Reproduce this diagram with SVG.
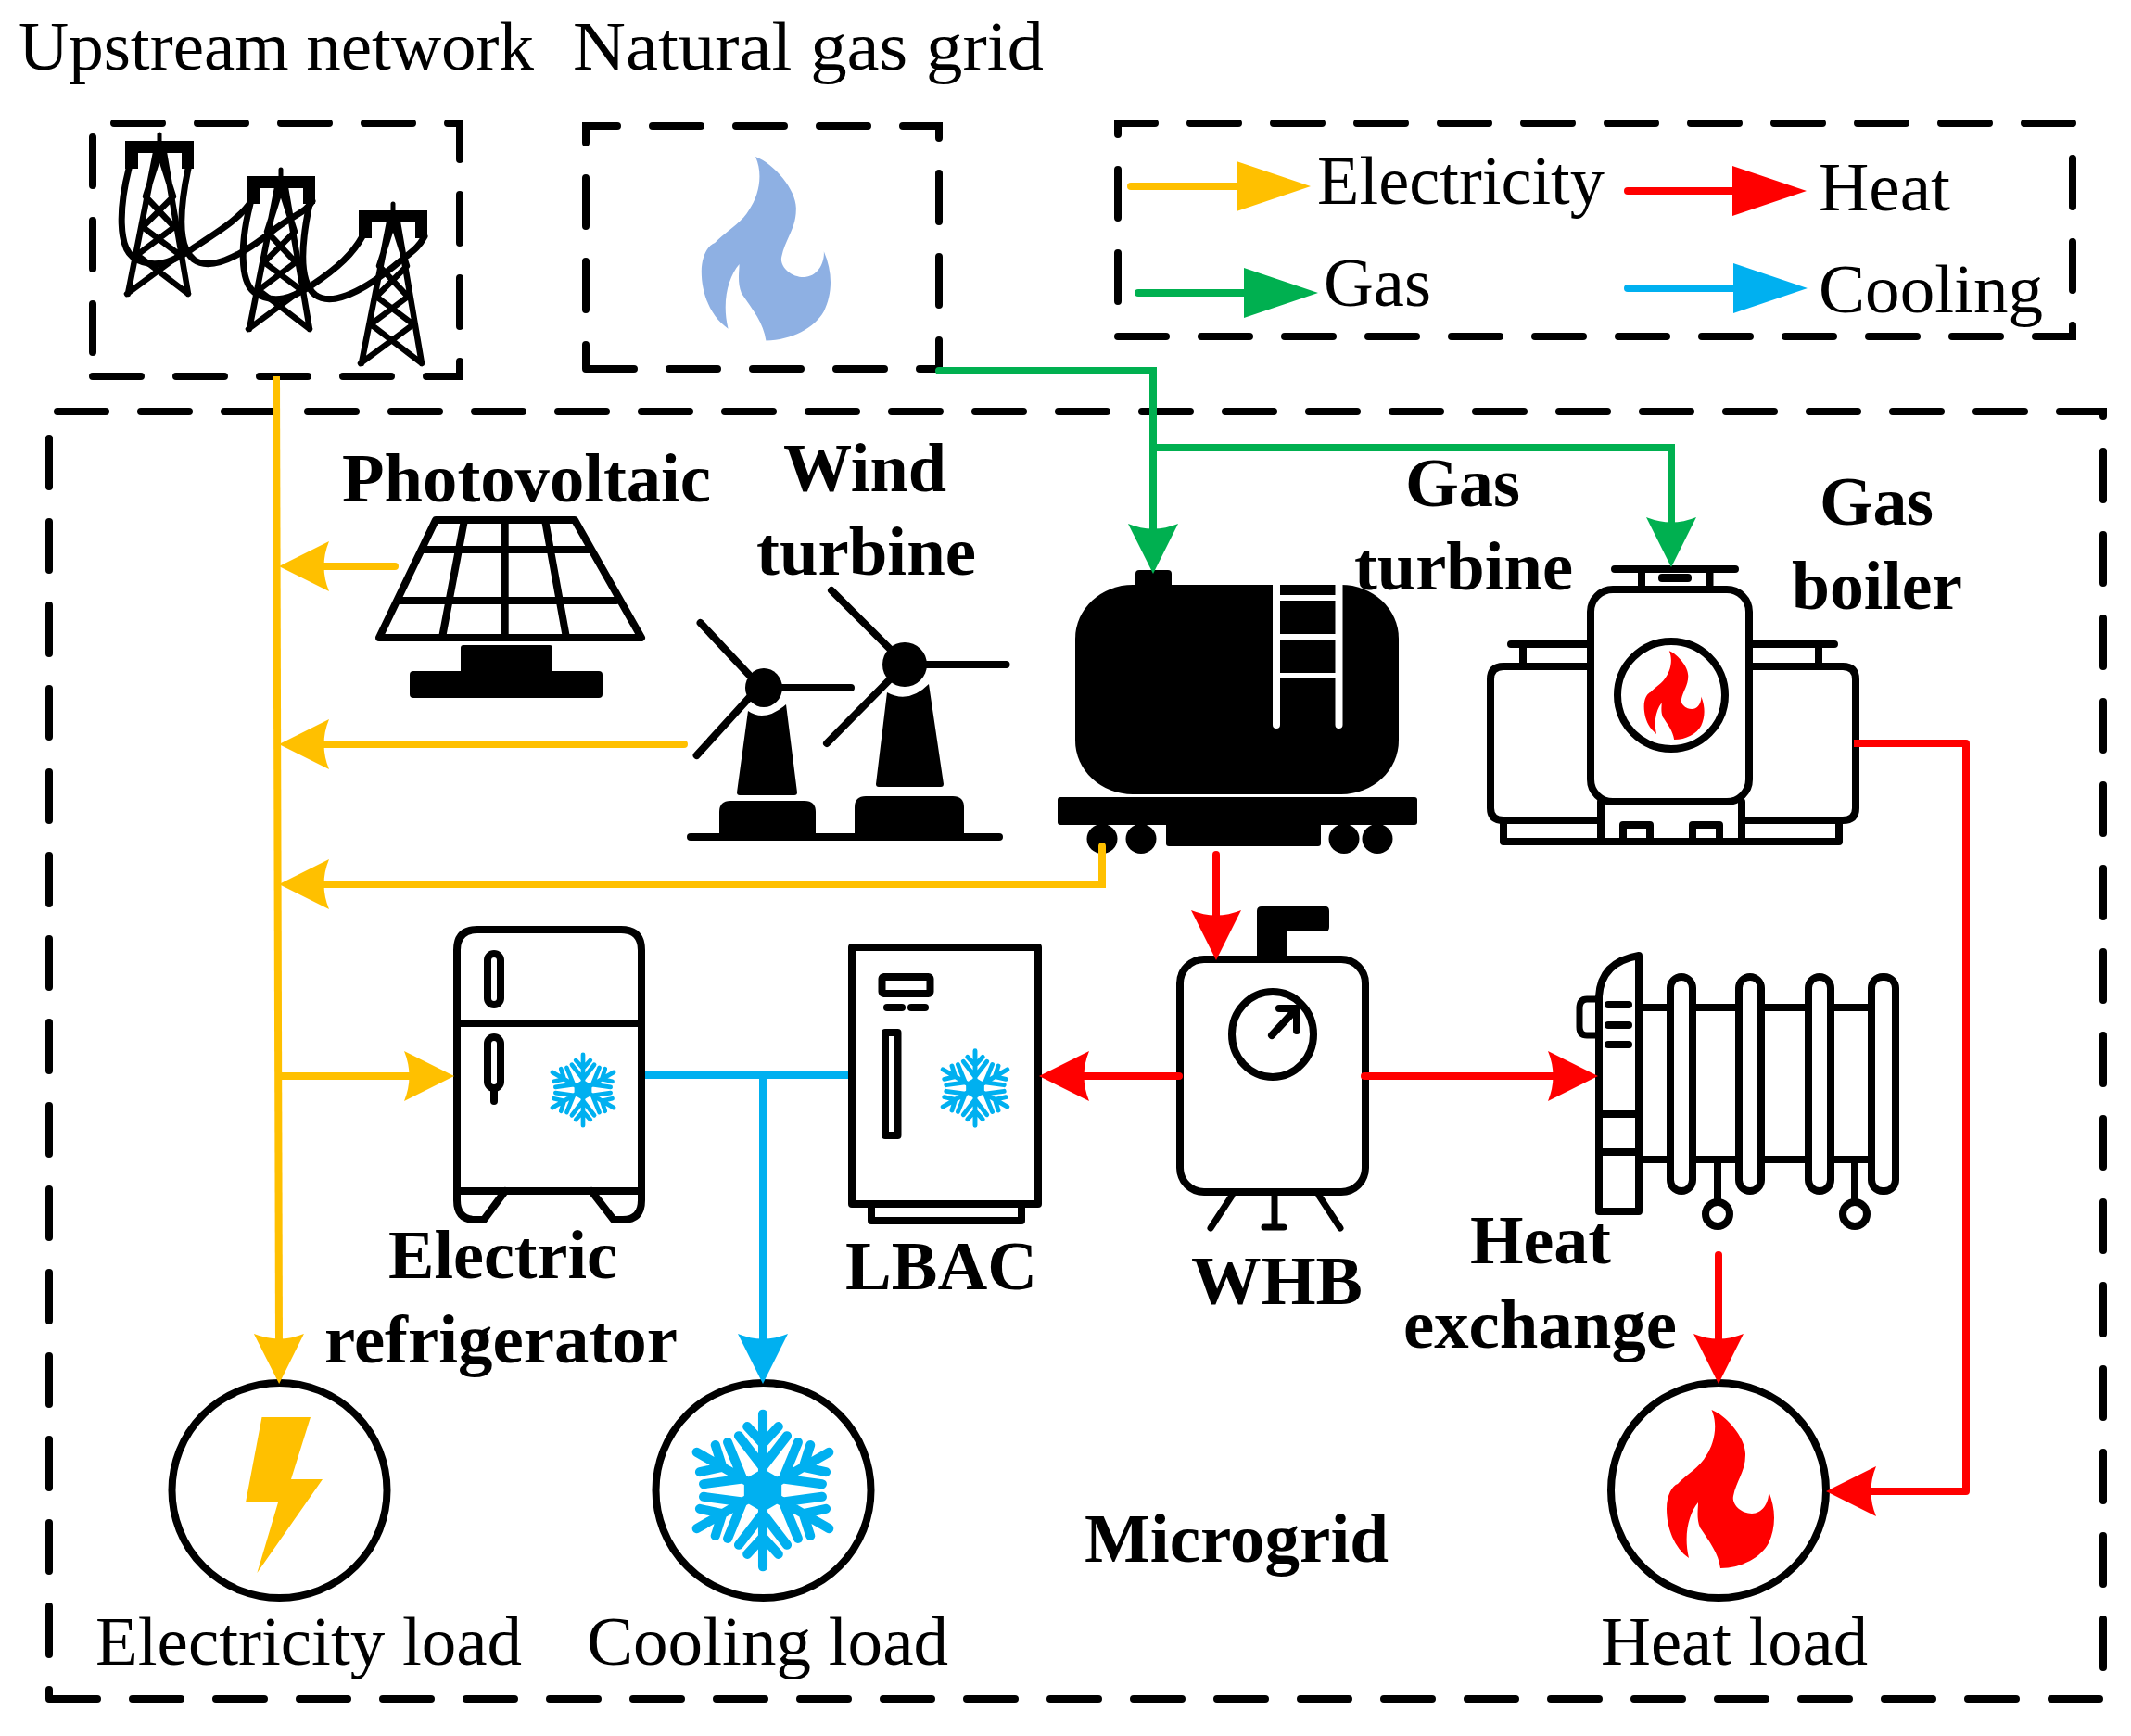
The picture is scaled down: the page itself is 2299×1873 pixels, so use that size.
<svg xmlns="http://www.w3.org/2000/svg" width="2299" height="1873" viewBox="0 0 2299 1873">
<style>
.bg{fill:#fff}
.dash{fill:none;stroke:#000;stroke-width:8;stroke-linecap:round;stroke-linejoin:miter;stroke-dasharray:52 38}
.t{font-family:"Liberation Serif","Times New Roman",serif;font-size:75px;fill:#000}
.b{font-weight:bold}
.s{fill:none;stroke:#000;stroke-width:8;stroke-linejoin:round;stroke-linecap:round}
.sw{fill:#fff;stroke:#000;stroke-width:8;stroke-linejoin:round;stroke-linecap:round}
.k{fill:#000;stroke:none}
.wl{fill:none;stroke:#fff;stroke-width:8;stroke-linecap:round}
.c{fill:none;stroke-width:8;stroke-linejoin:miter}
.y{stroke:#FFC000}.g{stroke:#00B050}.r{stroke:#FF0000}.u{stroke:#00B0F0}
.lg{stroke-linecap:round}
.flk{fill:none;stroke:#00B0F0;stroke-width:12;stroke-linecap:round;stroke-linejoin:round}
</style>
<defs>
<marker id="ay" markerUnits="userSpaceOnUse" viewBox="0 0 54 54" markerWidth="54" markerHeight="54" refX="10" refY="27" orient="auto"><path d="M0 0Q11 27 0 54L54 27Z" fill="#FFC000"/></marker>
<marker id="ag" markerUnits="userSpaceOnUse" viewBox="0 0 54 54" markerWidth="54" markerHeight="54" refX="10" refY="27" orient="auto"><path d="M0 0Q11 27 0 54L54 27Z" fill="#00B050"/></marker>
<marker id="ar" markerUnits="userSpaceOnUse" viewBox="0 0 54 54" markerWidth="54" markerHeight="54" refX="10" refY="27" orient="auto"><path d="M0 0Q11 27 0 54L54 27Z" fill="#FF0000"/></marker>
<marker id="au" markerUnits="userSpaceOnUse" viewBox="0 0 54 54" markerWidth="54" markerHeight="54" refX="10" refY="27" orient="auto"><path d="M0 0Q11 27 0 54L54 27Z" fill="#00B0F0"/></marker>
<marker id="ty" markerUnits="userSpaceOnUse" viewBox="0 0 80 54" markerWidth="80" markerHeight="54" refX="1" refY="27" orient="auto"><path d="M0 0V54L80 27Z" fill="#FFC000"/></marker>
<marker id="tg" markerUnits="userSpaceOnUse" viewBox="0 0 80 54" markerWidth="80" markerHeight="54" refX="1" refY="27" orient="auto"><path d="M0 0V54L80 27Z" fill="#00B050"/></marker>
<marker id="tr" markerUnits="userSpaceOnUse" viewBox="0 0 80 54" markerWidth="80" markerHeight="54" refX="1" refY="27" orient="auto"><path d="M0 0V54L80 27Z" fill="#FF0000"/></marker>
<marker id="tu" markerUnits="userSpaceOnUse" viewBox="0 0 80 54" markerWidth="80" markerHeight="54" refX="1" refY="27" orient="auto"><path d="M0 0V54L80 27Z" fill="#00B0F0"/></marker>
<path id="flame" d="M-7.5 -87C10 -80 30 -55 29 -38C29 -20 19 -10 16 6C14 15 24 25 36 25C48 25 55 12 54 1C62 20 62 40 54 57C46 72 25 84 2 84C0 68 -10 55 -20 40C-24 30 -22 20 -22 13C-32 25 -38 48 -32 73C-48 62 -56 40 -56 20C-56 5 -50 -5 -44 -7C-35 -17 -20 -25 -13 -38C-5 -50 0 -70 -7.5 -87Z"/>
<path id="arm" d="M0 0V-98M-20 -82L0 -60L20 -82M-31 -70L0 -30L31 -70"/>
<g id="flake" class="flk">
<use href="#arm"/><use href="#arm" transform="rotate(60)"/><use href="#arm" transform="rotate(120)"/><use href="#arm" transform="rotate(180)"/><use href="#arm" transform="rotate(240)"/><use href="#arm" transform="rotate(300)"/>
<path d="M0 -28L24 -14V14L0 28L-24 14V-14Z" fill="#00B0F0" stroke="none"/>
</g>
<g id="tower">
<path class="k" d="M135 152H209V182H196V165H149V182H135Z"/>
<path d="M172 145V156" stroke="#000" stroke-width="5" fill="none" stroke-linecap="round"/>
<path d="M168 165L138 317M177 165L203 317M172 165L157 212L188 245L148 275L203 317M172 165L187 212L154 245L194 275L137 317" fill="none" stroke="#000" stroke-width="6.5" stroke-linejoin="round" stroke-linecap="round"/>
</g>
</defs>
<rect class="bg" width="2299" height="1873"/>

<g id="frames">
<path class="dash" d="M100 406H496V133H100V406"/>
<path class="dash" d="M632 398H1013V136H632V398"/>
<path class="dash" d="M1206 363H2236V133H1206V363"/>
<path class="dash" d="M53 1833H2269V444H53V1833"/>
</g>

<g id="upstream-network">
<use href="#tower"/>
<use href="#tower" transform="translate(131 38)"/>
<use href="#tower" transform="translate(252 75)"/>
<g fill="none" stroke="#000" stroke-width="7" stroke-linecap="round">
<path d="M139 182C128 225 128 265 143 277C165 292 185 283 205 270C235 250 260 235 271 217"/>
<path d="M203 182C195 220 190 265 209 280C225 292 255 280 293 250C315 232 330 230 337 217"/>
<path d="M270 220C259 263 259 303 274 315C296 330 316 321 336 308C366 288 381 273 391 255"/>
<path d="M334 220C326 258 321 303 340 318C356 330 386 318 424 288C446 270 451 268 458 255"/>
</g>
<text class="t" x="20" y="75" textLength="556" lengthAdjust="spacingAndGlyphs">Upstream network</text>
</g>

<g id="natural-gas-grid">
<use href="#flame" fill="#8EB0E3" transform="translate(824 270) scale(1.2 1.16)"/>
<text class="t" x="618" y="75" textLength="508" lengthAdjust="spacingAndGlyphs">Natural gas grid</text>
</g>

<g id="legend">
<path class="c y lg" d="M1220 201H1335" marker-end="url(#ty)"/>
<path class="c g lg" d="M1228 316H1343" marker-end="url(#tg)"/>
<path class="c r lg" d="M1756 206H1870" marker-end="url(#tr)"/>
<path class="c u lg" d="M1756 311H1871" marker-end="url(#tu)"/>
<text class="t" x="1421" y="220" textLength="310" lengthAdjust="spacingAndGlyphs">Electricity</text>
<text class="t" x="1962" y="227" textLength="142" lengthAdjust="spacingAndGlyphs">Heat</text>
<text class="t" x="1428" y="330" textLength="116" lengthAdjust="spacingAndGlyphs">Gas</text>
<text class="t" x="1962" y="337" textLength="242" lengthAdjust="spacingAndGlyphs">Cooling</text>
</g>

<g id="photovoltaic">
<path class="s" d="M470 561H620L692 688H409ZM458 593H635M432 648H665M544.700 561V688M501 561L477 688M588 561L611 688"/>
<rect class="k" x="497" y="696" width="99" height="34" rx="3"/>
<rect class="k" x="442" y="724" width="208" height="29" rx="4"/>
<text class="t b" x="369" y="541" textLength="398" lengthAdjust="spacingAndGlyphs">Photovoltaic</text>
</g>

<g id="wind-turbine">
<path class="s" d="M755.600 672L808 728M843 742H918M751.600 815L808 753M897 637L962 702M999 717H1085.500M892 802L960 733"/>
<ellipse class="k" cx="824" cy="742" rx="20" ry="21"/>
<ellipse class="k" cx="976" cy="717" rx="24" ry="24"/>
<path class="k" d="M807 767Q825 780 848 760L860 855Q860 858 857 858H798Q795 858 795 855Z"/>
<path class="k" d="M957 747Q980 760 1002 738L1018 846Q1018 849 1015 849H948Q945 849 945 846Z"/>
<path class="k" d="M776 903V876Q776 864 788 864H868Q880 864 880 876V903Z"/>
<path class="k" d="M922 903V871Q922 859 934 859H1028Q1040 859 1040 871V903Z"/>
<path class="s" d="M745 903H1078"/>
<text class="t b" x="845" y="530" textLength="176" lengthAdjust="spacingAndGlyphs">Wind</text>
<text class="t b" x="816" y="620" textLength="237" lengthAdjust="spacingAndGlyphs">turbine</text>
</g>

<g id="gas-turbine">
<rect class="k" x="1225" y="615" width="39" height="24" rx="4"/>
<rect class="k" x="1160" y="631" width="349" height="226" rx="62" ry="58"/>
<path class="wl" d="M1377 631V782M1444.500 631V782"/>
<path d="M1377 645H1444M1377 687H1444M1377 729H1444" stroke="#fff" stroke-width="6" fill="none"/>
<rect class="k" x="1141" y="860" width="388" height="30" rx="3"/>
<rect class="k" x="1258" y="885" width="167" height="28" rx="3"/>
<ellipse class="k" cx="1189" cy="905" rx="16.500" ry="16"/>
<ellipse class="k" cx="1231" cy="905" rx="16.500" ry="16"/>
<ellipse class="k" cx="1450" cy="905" rx="16.500" ry="16"/>
<ellipse class="k" cx="1486" cy="905" rx="16.500" ry="16"/>
<text class="t b" x="1516" y="546" textLength="124" lengthAdjust="spacingAndGlyphs">Gas</text>
<text class="t b" x="1461" y="636" textLength="236" lengthAdjust="spacingAndGlyphs">turbine</text>
</g>

<g id="gas-boiler">
<path class="s" d="M1742 614H1872M1771 614V635M1844.500 614V635"/>
<rect class="k" x="1789" y="619" width="36" height="9" rx="4"/>
<path class="s" d="M1714 719H1622Q1608 719 1608 733V872Q1608 885 1622 885H1727M1891 719H1988Q2002 719 2002 733V872Q2002 885 1988 885H1879"/>
<path class="s" d="M1630 695H1714M1643 695V719M1891 695H1979M1962 695V719"/>
<path class="s" d="M1622 885V908H1984V885M1727 865V908M1879 865V908M1751 908V890H1780V908M1826 908V890H1855V908"/>
<rect class="sw" x="1716" y="636" width="171" height="229" rx="24"/>
<circle class="sw" cx="1803" cy="750" r="58"/>
<use href="#flame" fill="#FF0000" transform="translate(1805 751) scale(.56)"/>
<text class="t b" x="1963" y="566" textLength="123" lengthAdjust="spacingAndGlyphs">Gas</text>
<text class="t b" x="1933" y="657" textLength="184" lengthAdjust="spacingAndGlyphs">boiler</text>
</g>

<g id="electric-refrigerator">
<path class="s" d="M493 1025Q493 1003 515 1003H670Q692 1003 692 1025V1295Q692 1316 672 1316H662L638 1285M493 1025V1295Q493 1316 513 1316H522L545 1285M493 1104H692M493 1285H692"/>
<rect class="s" x="526" y="1029" width="14" height="55" rx="7"/>
<rect class="s" x="526" y="1119" width="14" height="55" rx="7"/>
<path class="s" d="M533 1174V1188"/>
<use href="#flake" transform="translate(629 1176) scale(.39)"/>
<text class="t b" x="419" y="1379" textLength="247" lengthAdjust="spacingAndGlyphs">Electric</text>
<text class="t b" x="350" y="1470" textLength="381" lengthAdjust="spacingAndGlyphs">refrigerator</text>
</g>

<g id="lbac">
<rect class="s" x="919" y="1022" width="201" height="277"/>
<path class="s" d="M940 1299V1317H1102V1299"/>
<rect class="s" x="951.500" y="1054" width="52" height="18" rx="2"/>
<rect class="k" x="953" y="1083" width="24" height="8" rx="4"/>
<rect class="k" x="979" y="1083" width="23" height="8" rx="4"/>
<rect class="s" x="955" y="1114" width="13.500" height="111"/>
<use href="#flake" transform="translate(1052 1174) scale(.41)"/>
<text class="t b" x="912" y="1391" textLength="207" lengthAdjust="spacingAndGlyphs">LBAC</text>
</g>

<g id="whb">
<path class="k" d="M1356 1031V983Q1356 978 1361 978H1430Q1434 978 1434 983V1000Q1434 1005 1430 1005H1389V1031Z"/>
<rect class="s" x="1273" y="1035" width="200" height="251" rx="26"/>
<ellipse class="s" cx="1373" cy="1116" rx="44" ry="46"/>
<path class="s" d="M1372 1117L1398 1089M1380 1088H1399V1112"/>
<path class="s" d="M1375 1290V1322M1364 1324H1385M1329 1290L1306 1325M1423 1290L1446 1325" style="stroke-width:7"/>
<text class="t b" x="1285" y="1407" textLength="185" lengthAdjust="spacingAndGlyphs">WHB</text>
</g>

<g id="heat-exchange">
<path class="s" d="M1771 1087H2015M1771 1251H2015M1853 1251V1295M2001 1251V1295"/>
<rect class="sw" x="1802" y="1054" width="24" height="231" rx="12"/>
<rect class="sw" x="1876" y="1054" width="24" height="231" rx="12"/>
<rect class="sw" x="1951" y="1054" width="24" height="231" rx="12"/>
<rect class="sw" x="2019" y="1054" width="26" height="231" rx="12"/>
<circle class="s" cx="1853" cy="1310" r="13"/>
<circle class="s" cx="2001" cy="1310" r="13"/>
<path class="s" d="M1722 1078H1712Q1704 1078 1704 1088V1108Q1704 1117 1712 1117H1722" style="stroke-width:7"/>
<path class="s" d="M1768 1031Q1727 1038 1725 1075V1307H1768ZM1725 1202H1768M1725 1243H1768"/>
<rect class="k" x="1731" y="1080" width="30" height="8" rx="4"/>
<rect class="k" x="1731" y="1102" width="30" height="8" rx="4"/>
<rect class="k" x="1731" y="1123" width="30" height="8" rx="4"/>
<text class="t b" x="1586" y="1363" textLength="152" lengthAdjust="spacingAndGlyphs">Heat</text>
<text class="t b" x="1514" y="1454" textLength="295" lengthAdjust="spacingAndGlyphs">exchange</text>
</g>

<g id="electricity-load">
<circle class="s" cx="301.500" cy="1608" r="116"/>
<path d="M282.500 1529H335L314 1596H348L277.400 1697L300 1621H265Z" fill="#FFC000"/>
<text class="t" x="103" y="1796" textLength="460" lengthAdjust="spacingAndGlyphs">Electricity load</text>
</g>

<g id="cooling-load">
<circle class="s" cx="823.500" cy="1608" r="116"/>
<use href="#flake" transform="translate(823 1608) scale(.84)"/>
<text class="t" x="633" y="1796" textLength="390" lengthAdjust="spacingAndGlyphs">Cooling load</text>
</g>

<g id="heat-load">
<circle class="s" cx="1854" cy="1608" r="116"/>
<use href="#flame" fill="#FF0000" transform="translate(1854 1608)"/>
<text class="t" x="1727" y="1796" textLength="288" lengthAdjust="spacingAndGlyphs">Heat load</text>
</g>

<g id="microgrid-label">
<text class="t b" x="1170" y="1685" textLength="328" lengthAdjust="spacingAndGlyphs">Microgrid</text>
</g>

<g id="connectors">
<path class="c y" d="M298 406L301 1449" marker-end="url(#ay)"/>
<path class="c y" d="M426 611H345" marker-end="url(#ay)" style="stroke-linecap:round"/>
<path class="c y" d="M738 803H345" marker-end="url(#ay)" style="stroke-linecap:round"/>
<path class="c y" d="M1189 913V954H345" marker-end="url(#ay)" style="stroke-linecap:round"/>
<path class="c y" d="M301 1161H446" marker-end="url(#ay)"/>
<path class="c g" d="M1013 400H1244V575" marker-end="url(#ag)" style="stroke-linecap:round"/>
<path class="c g" d="M1244 483H1803V568" marker-end="url(#ag)"/>
<path class="c r" d="M1312 922V992" marker-end="url(#ar)" style="stroke-linecap:round"/>
<path class="c r" d="M2000 802H2121V1609H2014" marker-end="url(#ar)" style="stroke-linejoin:round"/>
<path class="c r" d="M1854 1354V1449" marker-end="url(#ar)" style="stroke-linecap:round"/>
<path class="c r" d="M1472 1161H1680" marker-end="url(#ar)" style="stroke-linecap:round"/>
<path class="c r" d="M1272 1161H1165" marker-end="url(#ar)" style="stroke-linecap:round"/>
<path class="c u" d="M696 1160H915"/>
<path class="c u" d="M823 1160V1449" marker-end="url(#au)"/>
</g>
</svg>
